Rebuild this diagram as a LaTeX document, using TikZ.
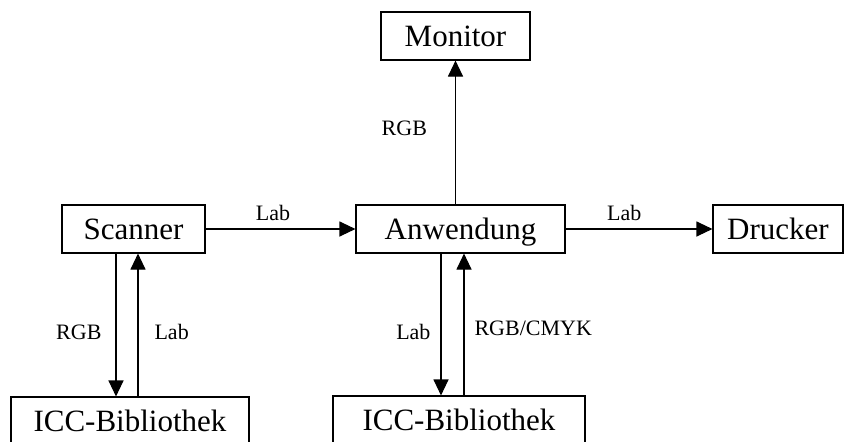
\documentclass[tikz,border=0pt]{standalone}
\usepackage{fontspec}
\setmainfont{Liberation Serif}
\usetikzlibrary{arrows.meta,positioning}

\tikzset{
    box/.style={draw, line width=0.55pt, minimum height=24pt, inner sep=0pt,
                text height=12pt, text depth=1.7pt,
                font=\fontsize{15.5}{18}\selectfont},
    lbl/.style={font=\fontsize{11}{13}\selectfont, inner sep=0pt},
    flow/.style={-{Triangle[length=8pt,width=7.5pt]}, line width=0.55pt}
}

\begin{document}
\begin{tikzpicture}[x=0.5pt, y=0.5pt]
        \useasboundingbox (0,0) rectangle (845,441);
        \clip (0,0) rectangle (845,441);
        % Boxes
        \node [box, minimum width=74.5pt] (monitor)   at (455.5,405) {Monitor};
        \node [box, minimum width=71.5pt] (scanner)   at (133.5,212) {Scanner};
        \node [box, minimum width=104.5pt] (anwendung) at (460.5,212) {Anwendung};
        \node [box, minimum width=65pt]   (drucker)   at (778,212)   {Drucker};
        \node [box, minimum width=119pt]  (iccscan)   at (130,20)    {ICC-Bibliothek};
        \node [box, minimum width=126pt]  (iccanw)    at (459,21)    {ICC-Bibliothek};
        % Horizontal arrows
        \draw [flow] (scanner) -- node [lbl, above=4pt, pos=0.45] {Lab} (anwendung);
        \draw [flow] (anwendung) -- node [lbl, above=4pt, pos=0.4] {Lab} (drucker);
        % Up to the monitor
        \draw [flow] (monitor.south |- anwendung.north) -- node [lbl, left=14pt, pos=0.53] {RGB} (monitor.south);
        % Scanner and its library
        \draw [flow] ([xshift=-8.75pt]scanner.south)
            -- node [lbl, left=7pt, pos=0.55] {RGB} ([xshift=-8.75pt]scanner.south |- iccscan.north);
        \draw [flow] ([xshift=2.25pt]scanner.south |- iccscan.north)
            -- node [lbl, right=8pt, pos=0.45] {Lab} ([xshift=2.25pt]scanner.south);
        % Application and its library
        \draw [flow] ([xshift=-9.75pt]anwendung.south)
            -- node [lbl, left=5pt, pos=0.55] {Lab} ([xshift=-9.75pt]anwendung.south |- iccanw.north);
        \draw [flow] ([xshift=1.75pt]anwendung.south |- iccanw.north)
            -- node [lbl, right=5pt, pos=0.47] {RGB/CMYK} ([xshift=1.75pt]anwendung.south);
\end{tikzpicture}
\end{document}
